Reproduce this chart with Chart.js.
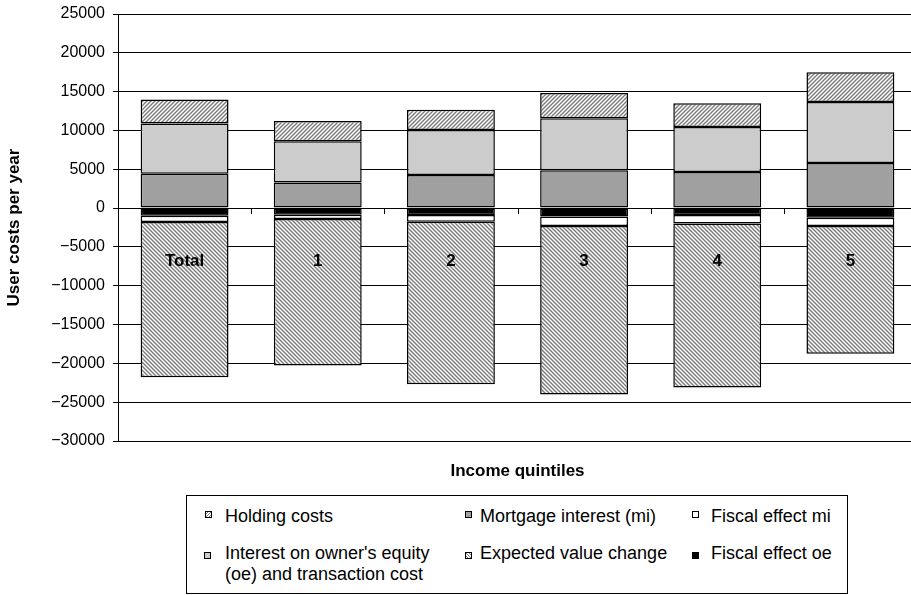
<!DOCTYPE html>
<html>
<head>
<meta charset="utf-8">
<script src="https://cdn.jsdelivr.net/npm/chart.js@4"></script>
<style>
  html, body { margin: 0; padding: 0; background: #fff; overflow: hidden; width: 911px; height: 595px; }
  #wrap { position: absolute; left: 0; top: 0; width: 920px; height: 595px; }
  canvas { display: block; }
  .lg { position: absolute; font-family: "Liberation Sans", Arial, sans-serif; font-size: 18px; line-height: 21px; color: #000; white-space: nowrap; }
  .mk { position: absolute; width: 5px; height: 5px; border: 1px solid #000; }
  #lgbox { position: absolute; left: 186px; top: 495px; width: 660px; height: 97px; border: 1px solid #000; background: #fff; }
</style>
</head>
<body>
<div id="wrap"><canvas id="c" width="920" height="595"></canvas></div>
<div id="lgbox"></div>
<div class="mk" style="left:205px;top:511px;background:repeating-linear-gradient(-45deg,#fff 0 1px,#777 1px 2px);"></div>
<div class="lg" style="left:225px;top:506px;">Holding costs</div>
<div class="mk" style="left:465px;top:511px;background:#a0a0a0;"></div>
<div class="lg" style="left:480px;top:506px;">Mortgage interest (mi)</div>
<div class="mk" style="left:692px;top:511px;background:#fff;"></div>
<div class="lg" style="left:711px;top:506px;">Fiscal effect mi</div>
<div class="mk" style="left:204px;top:552px;background:#cccccc;"></div>
<div class="lg" style="left:225px;top:543px;">Interest on owner's equity<br>(oe) and transaction cost</div>
<div class="mk" style="left:465px;top:552px;background:repeating-linear-gradient(45deg,#fff 0 1px,#777 1px 2px);"></div>
<div class="lg" style="left:480px;top:543px;">Expected value change</div>
<div class="mk" style="left:692px;top:552px;background:#000;"></div>
<div class="lg" style="left:711px;top:543px;">Fiscal effect oe</div>
<script>
// ---- Data ----
const categories = ["Total", "1", "2", "3", "4", "5"];
const mortgageInterest = [4430, 3310, 4250, 4860, 4640, 5800];
const ownerEquityInterest = [6470, 5290, 5800, 6700, 5800, 7860];
const holdingCosts = [3100, 2610, 2630, 3260, 3050, 3840];
const fiscalEffectOe = [-1000, -850, -900, -1070, -900, -1240];
const fiscalEffectMi = [-800, -570, -850, -1250, -1070, -1080];
const expectedValueChange = [-19980, -18850, -20930, -21690, -21130, -16440];
const yTicks = [25000, 20000, 15000, 10000, 5000, 0, -5000, -10000, -15000, -20000, -25000, -30000];

const FONT = '"Liberation Sans", Arial, sans-serif';

function hatch(ctx, dir, size, fg) {
  const c = document.createElement('canvas');
  c.width = c.height = size;
  const x = c.getContext('2d');
  x.fillStyle = '#fff';
  x.fillRect(0, 0, size, size);
  x.strokeStyle = fg;
  x.lineWidth = 1.4;
  x.beginPath();
  if (dir > 0) {
    x.moveTo(0, size); x.lineTo(size, 0);
    x.moveTo(-1, 1); x.lineTo(1, -1);
    x.moveTo(size - 1, size + 1); x.lineTo(size + 1, size - 1);
  } else {
    x.moveTo(0, 0); x.lineTo(size, size);
    x.moveTo(-1, size - 1); x.lineTo(1, size + 1);
    x.moveTo(size - 1, -1); x.lineTo(size + 1, 1);
  }
  x.stroke();
  return ctx.createPattern(c, 'repeat');
}

const canvas = document.getElementById('c');
const ctx = canvas.getContext('2d');
const holdPattern = hatch(ctx, 1, 4, '#7a7a7a');
const evPattern = hatch(ctx, -1, 4, '#7a7a7a');

const common = { borderColor: '#000', borderWidth: 1.5, borderSkipped: false, barPercentage: 0.66, categoryPercentage: 1 };

const extras = {
  id: 'extras',
  afterDatasetsDraw(chart) {
    const c = chart.ctx, xs = chart.scales.x, ys = chart.scales.y;
    const y0 = ys.getPixelForValue(0);
    c.save();
    c.strokeStyle = '#000';
    c.lineWidth = 1;
    for (let i = 0; i < categories.length - 1; i++) {
      const xp = Math.round((xs.getPixelForValue(i) + xs.getPixelForValue(i + 1)) / 2) + 0.5;
      c.beginPath(); c.moveTo(xp, y0); c.lineTo(xp, y0 + 6); c.stroke();
    }
    c.fillStyle = '#000';
    c.font = 'bold 17px ' + FONT;
    c.textAlign = 'center';
    c.textBaseline = 'middle';
    categories.forEach((lab, i) => c.fillText(lab, xs.getPixelForValue(i), y0 + 53));
    c.restore();
  }
};

new Chart(ctx, {
  type: 'bar',
  data: {
    labels: categories,
    datasets: [
      Object.assign({ label: 'Mortgage interest (mi)', data: mortgageInterest, backgroundColor: '#a0a0a0' }, common),
      Object.assign({ label: "Interest on owner's equity (oe) and transaction cost", data: ownerEquityInterest, backgroundColor: '#cccccc' }, common),
      Object.assign({ label: 'Holding costs', data: holdingCosts, backgroundColor: holdPattern }, common),
      Object.assign({ label: 'Fiscal effect oe', data: fiscalEffectOe, backgroundColor: '#000' }, common),
      Object.assign({ label: 'Fiscal effect mi', data: fiscalEffectMi, backgroundColor: '#fff' }, common),
      Object.assign({ label: 'Expected value change', data: expectedValueChange, backgroundColor: evPattern }, common)
    ]
  },
  options: {
    responsive: false,
    animation: false,
    layout: { padding: { top: 14, right: 3, bottom: 113, left: 0 } },
    plugins: { legend: { display: false }, tooltip: { enabled: false } },
    scales: {
      x: {
        stacked: true,
        afterFit(s) { s.height = 41; s.paddingLeft = 0; s.paddingRight = 0; },
        grid: { display: false },
        border: { display: false },
        ticks: { display: false },
        title: { display: true, text: 'Income quintiles', color: '#000', font: { family: FONT, size: 17, weight: 'bold' }, padding: { top: 0, bottom: 0 } }
      },
      y: {
        stacked: true,
        min: -30000,
        max: 25000,
        afterFit(s) { s.width = 118; s.paddingTop = 0; s.paddingBottom = 0; },
        afterBuildTicks(s) { s.ticks = yTicks.map(v => ({ value: v })); },
        grid: { color: '#000', lineWidth: 1, tickLength: 5, drawTicks: true },
        border: { display: true, color: '#000', width: 1 },
        ticks: {
          color: '#000',
          padding: 8,
          font: { family: FONT, size: 16 },
          callback: v => (v < 0 ? '\u2212' + Math.abs(v) : String(v))
        },
        title: { display: true, text: 'User costs per year', color: '#000', font: { family: FONT, size: 17, weight: 'bold' }, padding: { top: 4, bottom: 0 } }
      }
    }
  },
  plugins: [extras]
});
</script>
</body>
</html>
